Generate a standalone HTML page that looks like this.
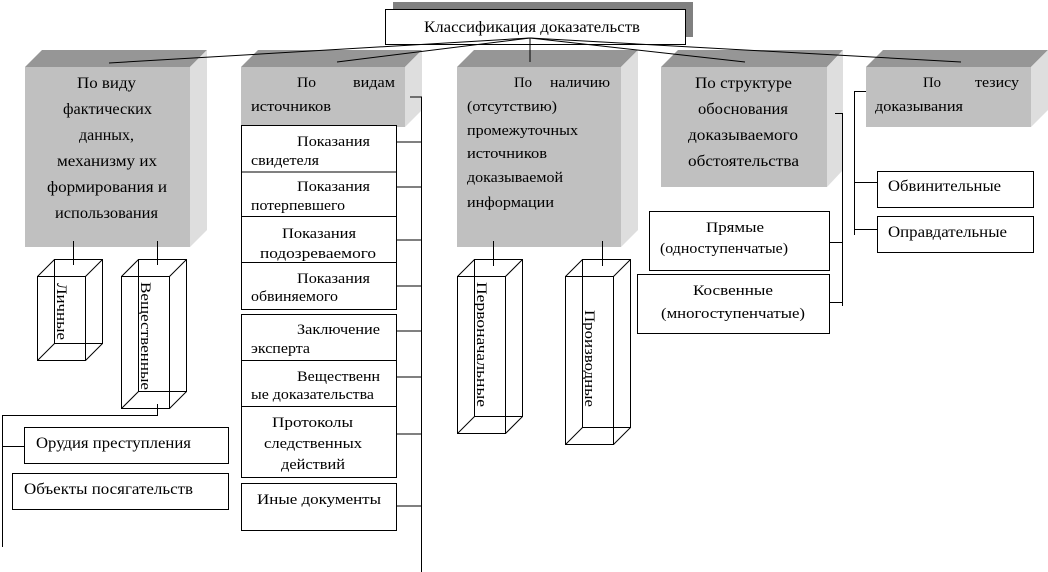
<!DOCTYPE html>
<html><head><meta charset="utf-8"><style>
html,body{margin:0;padding:0;background:#fff;}
svg{display:block;}
text{font-family:"Liberation Serif","DejaVu Serif",serif;font-size:16px;fill:#000;}
.s{font-size:15px;}
</style></head><body>
<svg width="1048" height="572" viewBox="0 0 1048 572" xmlns="http://www.w3.org/2000/svg">
<rect x="393" y="2" width="300" height="35" fill="#808080"/>
<rect x="385.5" y="9.5" width="300" height="35" fill="#fff" stroke="#000"/>
<text x="424" y="32" textLength="216" lengthAdjust="spacingAndGlyphs">Классификация  доказательств</text>

<g stroke="none">
<polygon points="25,67 42,50 207,50 190,67" fill="#969696"/>
<polygon points="190,67 207,50 207,230 190,247" fill="#dedede"/>
<rect x="25" y="67" width="165" height="180" fill="#c0c0c0"/>
<polygon points="241,67 258,50 422,50 405,67" fill="#969696"/>
<polygon points="405,67 422,50 422,110 405,127" fill="#dedede"/>
<rect x="241" y="67" width="164" height="60" fill="#c0c0c0"/>
<polygon points="457,67 474,50 638,50 621,67" fill="#969696"/>
<polygon points="621,67 638,50 638,230 621,247" fill="#dedede"/>
<rect x="457" y="67" width="164" height="180" fill="#c0c0c0"/>
<polygon points="661,67 678,50 843,50 827,67" fill="#969696"/>
<polygon points="827,67 843,50 843,170 827,187" fill="#dedede"/>
<rect x="661" y="67" width="166" height="120" fill="#c0c0c0"/>
<polygon points="866,67 883,50 1048,50 1031,67" fill="#969696"/>
<polygon points="1031,67 1048,50 1048,110 1031,127" fill="#dedede"/>
<rect x="866" y="67" width="165" height="60" fill="#c0c0c0"/>
</g>

<g stroke="#000" stroke-width="1" fill="none">
<line x1="530" y1="38" x2="109" y2="63"/>
<line x1="530" y1="38" x2="337" y2="62"/>
<line x1="530" y1="38" x2="530" y2="62"/>
<line x1="530" y1="38" x2="745" y2="62"/>
<line x1="530" y1="38" x2="961" y2="62"/>

<polyline points="410,97 421.5,97 421.5,572"/>
<line x1="396" y1="142" x2="421" y2="142"/>
<line x1="396" y1="187" x2="421" y2="187"/>
<line x1="396" y1="240" x2="421" y2="240"/>
<line x1="396" y1="286" x2="421" y2="286"/>
<line x1="396" y1="331" x2="421" y2="331"/>
<line x1="396" y1="377" x2="421" y2="377"/>
<line x1="396" y1="434" x2="421" y2="434"/>
<line x1="396" y1="506" x2="421" y2="506"/>

<rect x="241.5" y="125.5" width="155" height="184" fill="#fff"/>
<line x1="241" y1="172" x2="396" y2="172"/>
<line x1="241" y1="216.5" x2="396" y2="216.5"/>
<line x1="241" y1="262.5" x2="396" y2="262.5"/>
<rect x="241.5" y="314.5" width="155" height="163" fill="#fff"/>
<line x1="241" y1="360.5" x2="396" y2="360.5"/>
<line x1="241" y1="406.5" x2="396" y2="406.5"/>
<rect x="241.5" y="483.5" width="155" height="47" fill="#fff"/>

<line x1="73.5" y1="241" x2="73.5" y2="265"/>
<line x1="157.5" y1="241" x2="157.5" y2="265"/>
<rect x="37.5" y="276.5" width="48" height="84"/>
<rect x="54.5" y="259.5" width="48" height="84"/>
<line x1="37.5" y1="276.5" x2="54.5" y2="259.5"/>
<line x1="85.5" y1="276.5" x2="102.5" y2="259.5"/>
<line x1="37.5" y1="360.5" x2="54.5" y2="343.5"/>
<line x1="85.5" y1="360.5" x2="102.5" y2="343.5"/>
<rect x="121.5" y="276.5" width="48" height="132"/>
<rect x="138.5" y="259.5" width="48" height="132"/>
<line x1="121.5" y1="276.5" x2="138.5" y2="259.5"/>
<line x1="169.5" y1="276.5" x2="186.5" y2="259.5"/>
<line x1="121.5" y1="408.5" x2="138.5" y2="391.5"/>
<line x1="169.5" y1="408.5" x2="186.5" y2="391.5"/>
<polyline points="157.5,404 157.5,415.5 2.5,415.5 2.5,547"/>
<line x1="2" y1="446.5" x2="24" y2="446.5"/>
<rect x="24.5" y="427.5" width="204" height="36" fill="#fff"/>
<rect x="12.5" y="473.5" width="216" height="36" fill="#fff"/>

<line x1="493.5" y1="241" x2="493.5" y2="266"/>
<line x1="602.5" y1="241" x2="602.5" y2="266"/>
<rect x="457.5" y="276.5" width="48" height="157"/>
<rect x="474.5" y="259.5" width="48" height="157"/>
<line x1="457.5" y1="276.5" x2="474.5" y2="259.5"/>
<line x1="505.5" y1="276.5" x2="522.5" y2="259.5"/>
<line x1="457.5" y1="433.5" x2="474.5" y2="416.5"/>
<line x1="505.5" y1="433.5" x2="522.5" y2="416.5"/>
<rect x="565.5" y="276.5" width="48" height="168"/>
<rect x="582.5" y="259.5" width="48" height="168"/>
<line x1="565.5" y1="276.5" x2="582.5" y2="259.5"/>
<line x1="613.5" y1="276.5" x2="630.5" y2="259.5"/>
<line x1="565.5" y1="444.5" x2="582.5" y2="427.5"/>
<line x1="613.5" y1="444.5" x2="630.5" y2="427.5"/>

<polyline points="835,113.5 842.5,113.5 842.5,306"/>
<line x1="829" y1="242.5" x2="842" y2="242.5"/>
<line x1="829" y1="302.5" x2="842" y2="302.5"/>
<rect x="649.5" y="211.5" width="180" height="59" fill="#fff"/>
<rect x="637.5" y="274.5" width="192" height="59" fill="#fff"/>

<polyline points="866,91.5 854.5,91.5 854.5,235"/>
<line x1="854" y1="182.5" x2="877" y2="182.5"/>
<line x1="854" y1="229.5" x2="877" y2="229.5"/>
<rect x="877.5" y="171.5" width="156" height="36" fill="#fff"/>
<rect x="877.5" y="216.5" width="156" height="36" fill="#fff"/>
</g>

<g lengthAdjust="spacingAndGlyphs">
<text x="77" y="88" textLength="59" lengthAdjust="spacingAndGlyphs">По виду</text>
<text x="63" y="114" textLength="89" lengthAdjust="spacingAndGlyphs">фактических</text>
<text x="79" y="140" textLength="55" lengthAdjust="spacingAndGlyphs">данных,</text>
<text x="57" y="166" textLength="100" lengthAdjust="spacingAndGlyphs">механизму  их</text>
<text x="47" y="192" textLength="120" lengthAdjust="spacingAndGlyphs">формирования  и</text>
<text x="55" y="218" textLength="103" lengthAdjust="spacingAndGlyphs">использования</text>

<text x="695" y="88" textLength="97" lengthAdjust="spacingAndGlyphs">По структуре</text>
<text x="698" y="114" textLength="90" lengthAdjust="spacingAndGlyphs">обоснования</text>
<text x="688" y="140" textLength="110" lengthAdjust="spacingAndGlyphs">доказываемого</text>
<text x="688" y="166" textLength="111" lengthAdjust="spacingAndGlyphs">обстоятельства</text>

<text class="s" x="706" y="232" textLength="58" lengthAdjust="spacingAndGlyphs">Прямые</text>
<text class="s" x="660" y="253" textLength="128" lengthAdjust="spacingAndGlyphs">(одноступенчатые)</text>
<text class="s" x="693" y="295" textLength="80" lengthAdjust="spacingAndGlyphs">Косвенные</text>
<text class="s" x="661" y="318" textLength="144" lengthAdjust="spacingAndGlyphs">(многоступенчатые)</text>

<text class="s" x="297" y="87" textLength="19" lengthAdjust="spacingAndGlyphs">По</text>
<text class="s" x="353" y="87" textLength="42" lengthAdjust="spacingAndGlyphs">видам</text>
<text class="s" x="251" y="111" textLength="80" lengthAdjust="spacingAndGlyphs">источников</text>

<text class="s" x="514" y="87" textLength="18" lengthAdjust="spacingAndGlyphs">По</text>
<text class="s" x="550" y="87" textLength="60" lengthAdjust="spacingAndGlyphs">наличию</text>
<text class="s" x="467" y="111" textLength="90" lengthAdjust="spacingAndGlyphs">(отсутствию)</text>
<text class="s" x="467" y="135" textLength="111" lengthAdjust="spacingAndGlyphs">промежуточных</text>
<text class="s" x="467" y="158" textLength="80" lengthAdjust="spacingAndGlyphs">источников</text>
<text class="s" x="467" y="182" textLength="96" lengthAdjust="spacingAndGlyphs">доказываемой</text>
<text class="s" x="467" y="207" textLength="87" lengthAdjust="spacingAndGlyphs">информации</text>

<text class="s" x="923" y="87" textLength="18" lengthAdjust="spacingAndGlyphs">По</text>
<text class="s" x="975" y="87" textLength="44" lengthAdjust="spacingAndGlyphs">тезису</text>
<text class="s" x="875" y="111" textLength="88" lengthAdjust="spacingAndGlyphs">доказывания</text>

<text class="s" x="297" y="146" textLength="73" lengthAdjust="spacingAndGlyphs">Показания</text>
<text class="s" x="251" y="165" textLength="68" lengthAdjust="spacingAndGlyphs">свидетеля</text>
<text class="s" x="297" y="191" textLength="73" lengthAdjust="spacingAndGlyphs">Показания</text>
<text class="s" x="251" y="210" textLength="94" lengthAdjust="spacingAndGlyphs">потерпевшего</text>
<text class="s" x="282" y="238" textLength="74" lengthAdjust="spacingAndGlyphs">Показания</text>
<text class="s" x="260" y="258" textLength="116" lengthAdjust="spacingAndGlyphs">подозреваемого</text>
<text class="s" x="297" y="283" textLength="73" lengthAdjust="spacingAndGlyphs">Показания</text>
<text class="s" x="251" y="301" textLength="87" lengthAdjust="spacingAndGlyphs">обвиняемого</text>
<text class="s" x="297" y="334" textLength="83" lengthAdjust="spacingAndGlyphs">Заключение</text>
<text class="s" x="251" y="353" textLength="59" lengthAdjust="spacingAndGlyphs">эксперта</text>
<text class="s" x="297" y="381" textLength="83" lengthAdjust="spacingAndGlyphs">Вещественн</text>
<text class="s" x="251" y="399" textLength="123" lengthAdjust="spacingAndGlyphs">ые доказательства</text>
<text class="s" x="272" y="427" textLength="81" lengthAdjust="spacingAndGlyphs">Протоколы</text>
<text class="s" x="264" y="448" textLength="98" lengthAdjust="spacingAndGlyphs">следственных</text>
<text class="s" x="281" y="469" textLength="64" lengthAdjust="spacingAndGlyphs">действий</text>
<text class="s" x="257" y="504" textLength="124" lengthAdjust="spacingAndGlyphs">Иные документы</text>

<text x="36" y="448" textLength="155" lengthAdjust="spacingAndGlyphs">Орудия  преступления</text>
<text x="24" y="494" textLength="169" lengthAdjust="spacingAndGlyphs">Объекты посягательств</text>
<text x="888" y="191" textLength="113" lengthAdjust="spacingAndGlyphs">Обвинительные</text>
<text x="888" y="237" textLength="119" lengthAdjust="spacingAndGlyphs">Оправдательные</text>

<text class="s" transform="translate(57,283) rotate(90)" textLength="57" lengthAdjust="spacingAndGlyphs">Личные</text>
<text class="s" transform="translate(141,282) rotate(90)" textLength="108" lengthAdjust="spacingAndGlyphs">Вещественные</text>
<text class="s" transform="translate(477,282) rotate(90)" textLength="125" lengthAdjust="spacingAndGlyphs">Первоначальные</text>
<text class="s" transform="translate(585,310) rotate(90)" textLength="97" lengthAdjust="spacingAndGlyphs">Производные</text>
</g>
</svg>
</body></html>
